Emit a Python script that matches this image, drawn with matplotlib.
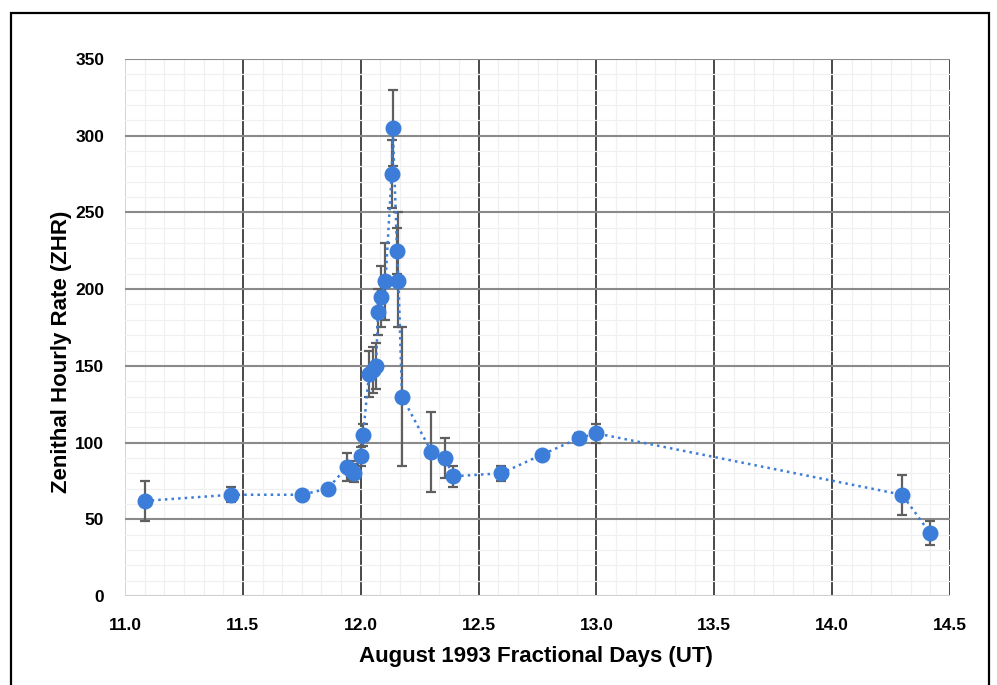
import numpy as np
import matplotlib
matplotlib.use("Agg")
import matplotlib.pyplot as plt
from matplotlib.patches import Rectangle

# data (days of Aug 1993, ZHR, error bars)
days = [11.085, 11.449, 11.75, 11.86, 11.941, 11.958, 11.97, 12.0, 12.01,
        12.035, 12.05, 12.065, 12.073, 12.087, 12.105, 12.131, 12.136,
        12.154, 12.16, 12.175, 12.30, 12.359, 12.39, 12.597, 12.767,
        12.928, 13.0, 14.297, 14.415]
zhr = [62, 66, 66, 70, 84, 82, 80, 91, 105,
       145, 147, 150, 185, 195, 205, 275, 305,
       225, 205, 130, 94, 90, 78, 80, 92,
       103, 106, 66, 41]
err_low = [13, 5, 0, 0, 9, 6, 6, 6, 7,
           15, 15, 15, 15, 20, 25, 22, 25,
           15, 30, 45, 26, 13, 7, 5, 0,
           3, 6, 13, 8]
err_high = [13, 5, 0, 0, 9, 6, 6, 6, 7,
            15, 15, 15, 15, 20, 25, 22, 25,
            15, 45, 45, 26, 13, 7, 5, 0,
            3, 6, 13, 8]

plt.rcParams['font.family'] = 'Liberation Sans'
plt.rcParams['font.weight'] = 'bold'

fig = plt.figure(figsize=(9.97, 6.85), dpi=100)
ax = fig.add_axes([0.1254, 0.1299, 0.8275, 0.784])

# outer frame of the chart
fig.patches.append(Rectangle((11/997, -0.05), 978/997, (685-13)/685 + 0.05,
                             transform=fig.transFigure, fill=False,
                             edgecolor='black', linewidth=1.6))

ax.errorbar(days, zhr, yerr=[err_low, err_high], fmt='none',
            ecolor='#5f5f5f', elinewidth=1.6, capsize=3.5, capthick=1.6, zorder=3)
ax.plot(days, zhr, linestyle=':', color='#3b7dd8', linewidth=1.8, zorder=4)
ax.plot(days, zhr, 'o', color='#3b7dd8', markersize=10.5, zorder=5)

ax.set_xlim(11.0, 14.5)
ax.set_ylim(0, 350)
ax.set_xticks(np.arange(11.0, 14.51, 0.5))
ax.set_yticks(np.arange(0, 351, 50))
ax.set_xticks(np.arange(11.0, 14.51, 0.5 / 6), minor=True)
ax.set_yticks(np.arange(0, 351, 10), minor=True)
ax.set_xticklabels(['{:.1f}'.format(v) for v in np.arange(11.0, 14.51, 0.5)])

ax.grid(which='minor', color='#f0f0f0', linewidth=0.9)
ax.xaxis.grid(True, which='major', color='#3a3a3a', linewidth=1.3)
ax.yaxis.grid(True, which='major', color='#8a8a8a', linewidth=1.5)
ax.yaxis.get_gridlines()[0].set_color('#d0d0d0')
ax.xaxis.get_gridlines()[0].set_color('#d0d0d0')
ax.set_axisbelow(True)
for s in ax.spines.values():
    s.set_visible(False)
ax.tick_params(which='both', length=0)
for lab in ax.get_xticklabels() + ax.get_yticklabels():
    lab.set_fontweight('bold')
ax.tick_params(axis='x', pad=16, labelsize=12.5)
ax.tick_params(axis='y', pad=15, labelsize=12.5)

ax.set_xlabel('August 1993 Fractional Days (UT)', fontsize=16, fontweight='bold', va='center')
ax.set_ylabel('Zenithal Hourly Rate (ZHR)', fontsize=16, fontweight='bold', va='center')
ax.xaxis.set_label_coords(0.498, -0.1117)
ax.yaxis.set_label_coords(-0.0764, 0.4544)

fig.savefig('out.png', dpi=100)
